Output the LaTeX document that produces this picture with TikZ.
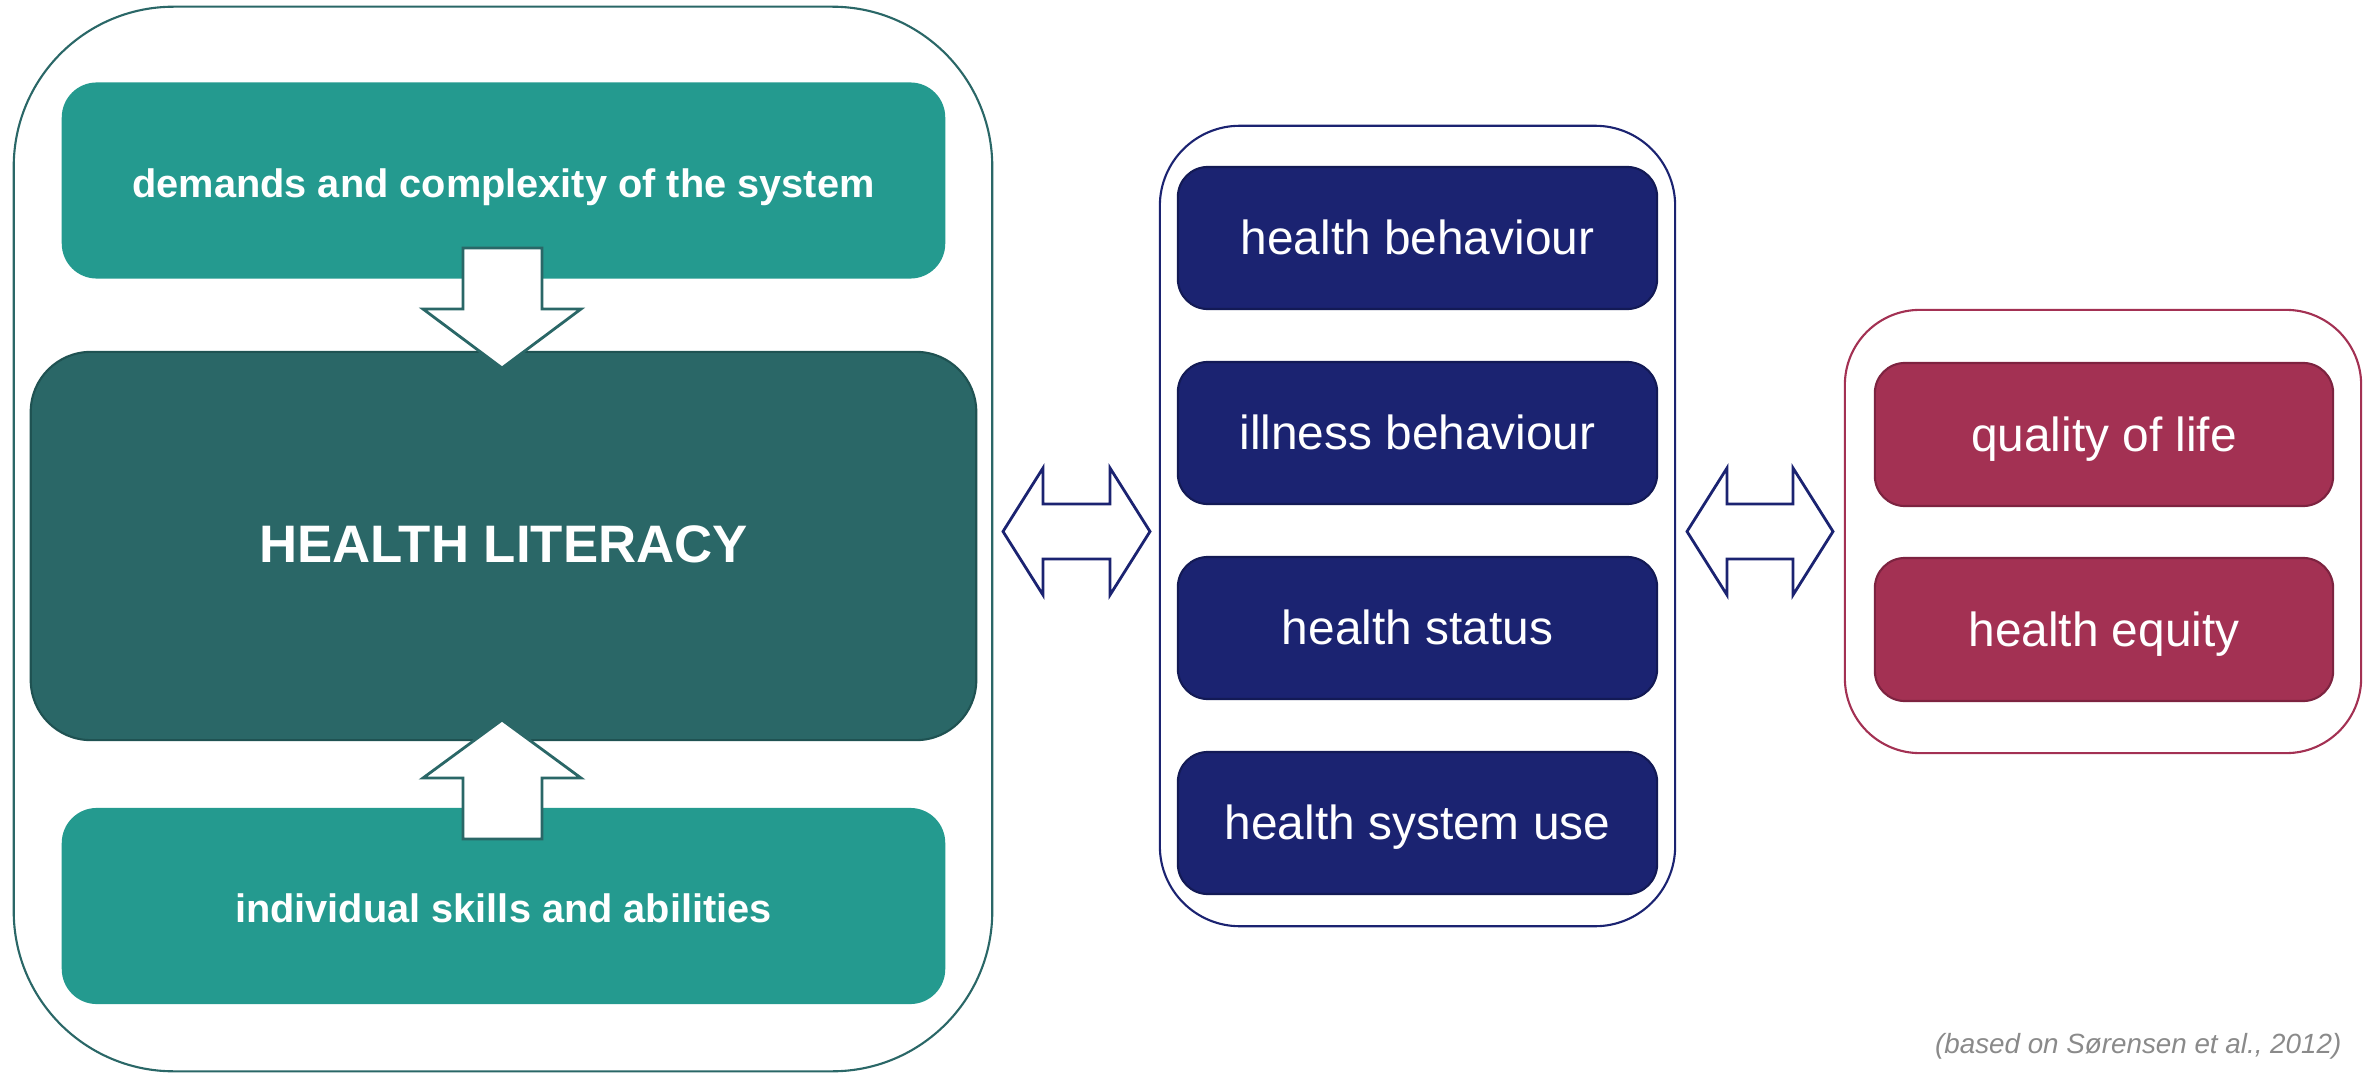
\documentclass[tikz,border=0pt]{standalone}
\usepackage{fontspec}
\setmainfont{Liberation Sans}

\definecolor{tealbox}{HTML}{249A8F}
\definecolor{tealdark}{HTML}{2A6767}
\definecolor{tealline}{HTML}{1F5252}
\definecolor{navy}{HTML}{1B2371}
\definecolor{navyline}{HTML}{131A55}
\definecolor{crimson}{HTML}{A33153}
\definecolor{crimsonline}{HTML}{7D2340}
\definecolor{notegray}{HTML}{8A8A8A}

\begin{document}
\begin{tikzpicture}[x=0.01cm, y=-0.01cm,
  frame/.style={draw, line width=0.6pt, fill=white},
  label/.style={text=white, text height=1.05em, text depth=0.11em},
  factor/.style={label, fill=tealbox, rounded corners=0.35cm,
    minimum width=8.83cm, minimum height=1.96cm,
    font=\fontsize{11.3}{13}\selectfont\bfseries},
  outcome/.style={label, fill=navy, draw=navyline, line width=0.6pt,
    rounded corners=0.3cm, minimum width=4.79cm, minimum height=1.42cm,
    font=\fontsize{13.6}{16}\selectfont},
  result/.style={label, fill=crimson, draw=crimsonline, line width=0.6pt,
    rounded corners=0.3cm, minimum width=4.58cm, minimum height=1.43cm,
    font=\fontsize{13.6}{16}\selectfont},
  blockarrow/.style={draw, fill=white, line width=0.8pt, line join=miter}]
\useasboundingbox (0,0) rectangle (2372,1073);

% Health literacy block
\node [frame, draw=tealdark, rounded corners=1.6cm,
  minimum width=9.78cm, minimum height=10.64cm] (hlframe) at (503,539) {};
\node [factor] (demands) at (503.5,180.5) {demands and complexity of the system};
\node [factor] (skills) at (503.5,906) {individual skills and abilities};
\node [label, fill=tealdark, draw=tealline, line width=0.6pt,
  rounded corners=0.6cm, minimum width=9.45cm, minimum height=3.88cm,
  font=\fontsize{15}{18}\selectfont\bfseries] (hl) at (503.5,546) {HEALTH LITERACY};

% Arrows into the health literacy box
\draw [blockarrow, draw=tealdark] (463,248) -- ++(79,0) -- ++(0,61) -- ++(39,0)
  -- ++(-79,59) -- ++(-79,-59) -- ++(40,0) -- cycle;
\draw [blockarrow, draw=tealdark] (463,839) -- ++(79,0) -- ++(0,-61) -- ++(39,0)
  -- ++(-79,-58) -- ++(-79,58) -- ++(40,0) -- cycle;

% Health outcomes
\node [frame, draw=navy, rounded corners=0.8cm,
  minimum width=5.15cm, minimum height=8cm] (outframe) at (1417.5,526) {};
\node [outcome] (behaviour) at (1417.5,238) {health behaviour};
\node [outcome] (illness) at (1417.5,433) {illness behaviour};
\node [outcome] (status) at (1417.5,628) {health status};
\node [outcome] (use) at (1417.5,823) {health system use};

% Quality of life and equity
\node [frame, draw=crimson, rounded corners=0.75cm,
  minimum width=5.16cm, minimum height=4.43cm] (resframe) at (2103,531.5) {};
\node [result] (quality) at (2104,434.5) {quality of life};
\node [result] (equity) at (2104,629.5) {health equity};

% Double arrows between the blocks
\draw [blockarrow, draw=navy] (1003,531.5) -- (1043,468) -- (1043,504) -- (1110,504)
  -- (1110,468) -- (1150,531.5) -- (1110,595) -- (1110,559) -- (1043,559)
  -- (1043,595) -- cycle;
\draw [blockarrow, draw=navy] (1687,531.5) -- (1727,468) -- (1727,504) -- (1793,504)
  -- (1793,468) -- (1833,531.5) -- (1793,595) -- (1793,559) -- (1727,559)
  -- (1727,595) -- cycle;

% Source
\node [anchor=base east, text=notegray, inner sep=0pt,
  font=\fontsize{7.9}{9}\selectfont\itshape] (source) at (2342,1053)
  {(based on Sørensen et al., 2012)};
\end{tikzpicture}
\end{document}
